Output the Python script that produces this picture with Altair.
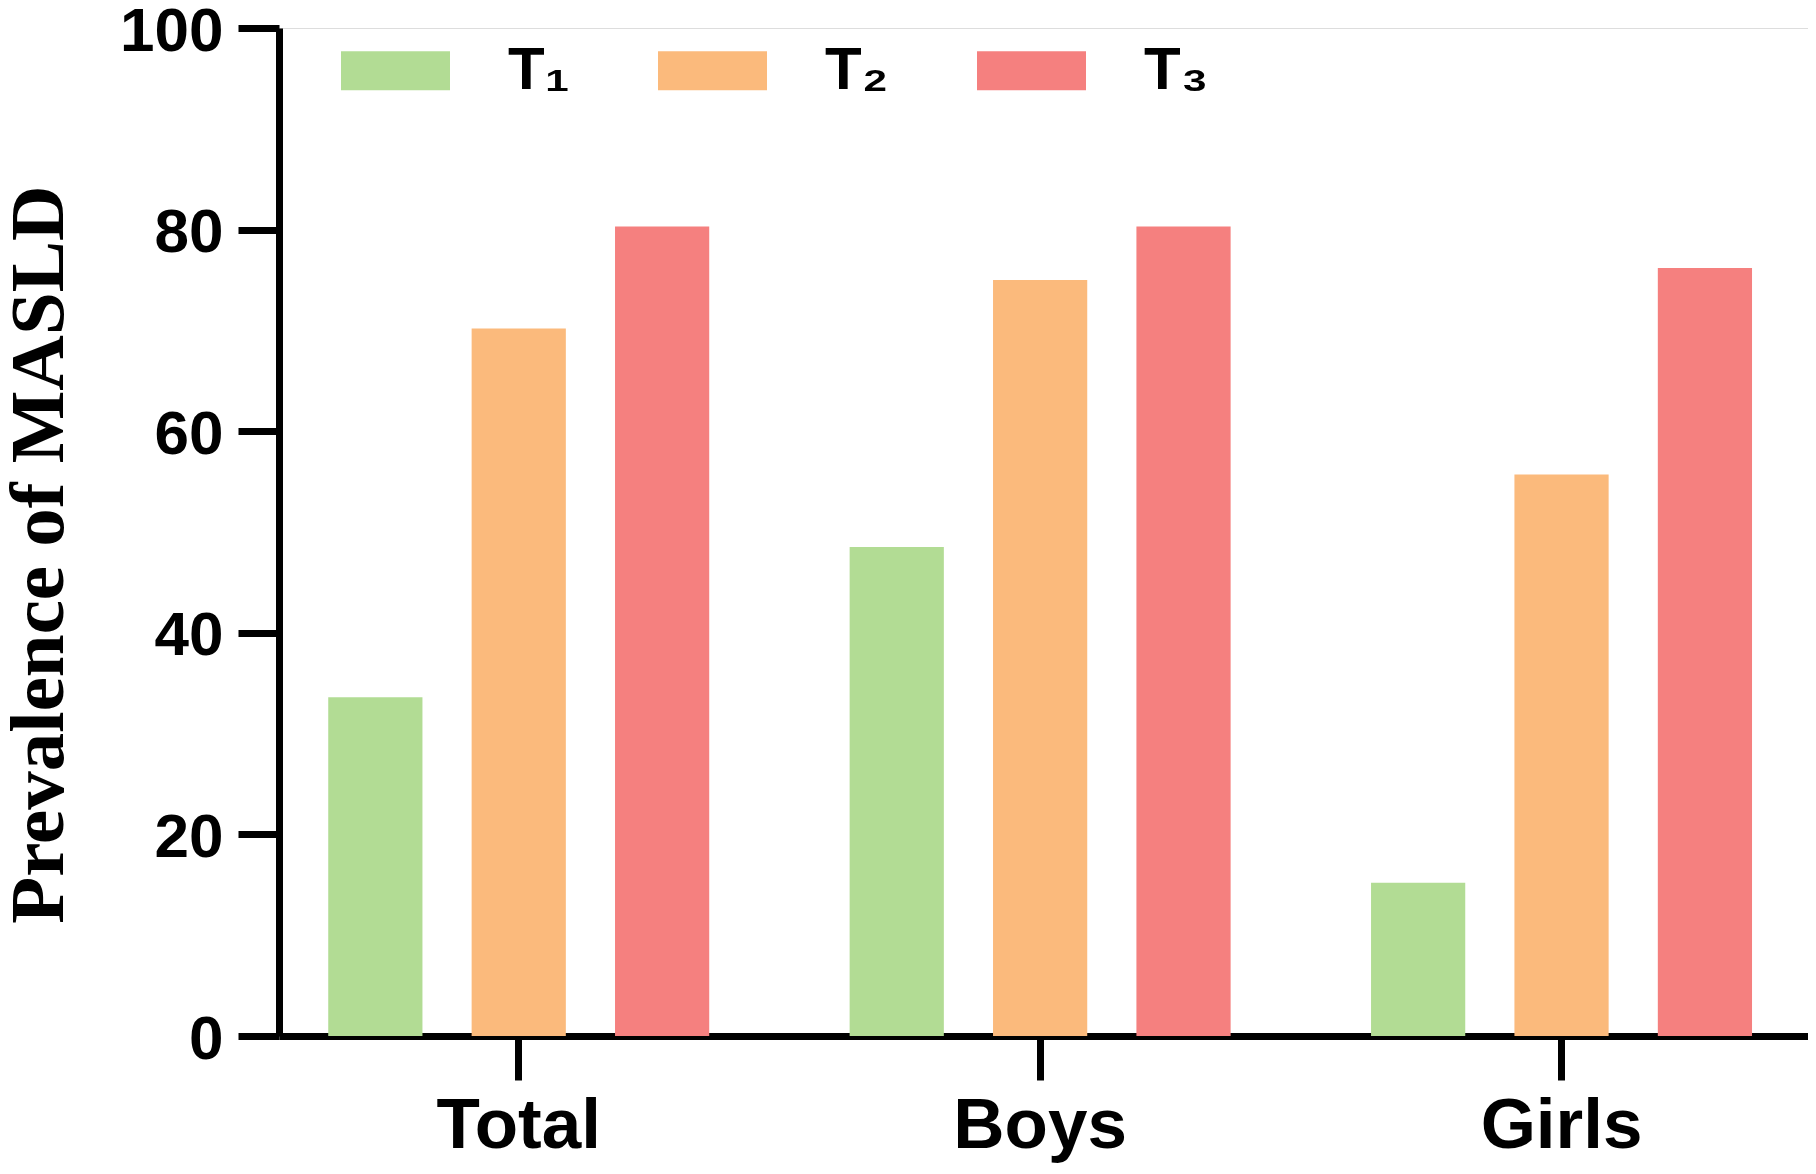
import altair as alt
import pandas as pd

groups = ["Total", "Boys", "Girls"]
tertiles = ["T\u2081", "T\u2082", "T\u2083"]
t1_values = [33.6, 48.5, 15.2]
t2_values = [70.2, 75.0, 55.7]
t3_values = [80.3, 80.3, 76.2]
colors = ["#B2DC94", "#FBBA7C", "#F5807F"]
y_ticks = [0, 20, 40, 60, 80, 100]

rows = []
for i, g in enumerate(groups):
    for t, vals in zip(tertiles, [t1_values, t2_values, t3_values]):
        rows.append({"group": g, "tertile": t, "value": vals[i]})
df = pd.DataFrame(rows)

chart = alt.Chart(df).mark_bar(opacity=1, strokeWidth=0).encode(
    x=alt.X("group:N", sort=groups,
            scale=alt.Scale(paddingInner=0.2693, paddingOuter=0.1009, align=0.468),
            axis=alt.Axis(title=None, labelAngle=0, labelFont="Liberation Sans",
                          labelFontWeight="bold", labelFontSize=71, labelColor="black",
                          labelPadding=11, tickSize=44, tickWidth=7, tickColor="black",
                          domainWidth=7, domainColor="black", grid=False)),
    xOffset=alt.XOffset("tertile:N", sort=tertiles,
                        scale=alt.Scale(paddingInner=0.343, paddingOuter=0)),
    y=alt.Y("value:Q", scale=alt.Scale(domain=[0, 100], nice=False),
            axis=alt.Axis(title="Prevalence of MASLD", values=y_ticks, grid=False,
                          labelFont="Liberation Sans", labelFontWeight="bold",
                          labelFontSize=62, labelColor="black", labelPadding=15,
                          labelOffset=3,
                          tickSize=41, tickWidth=7, tickColor="black",
                          domainWidth=7, domainColor="black",
                          titleFont="Liberation Serif", titleFontWeight="bold",
                          titleFontSize=77, titleColor="black", titleAngle=270,
                          titleX=-240, titleY=526, titleAlign="center",
                          titleBaseline="middle")),
    color=alt.Color("tertile:N", sort=tertiles,
                    scale=alt.Scale(domain=tertiles, range=colors),
                    legend=alt.Legend(title=None, orient="none", legendX=62, legendY=-12,
                                      direction="horizontal",
                                      symbolType="M-1,-0.36H1V0.36H-1Z",
                                      symbolSize=11881, symbolStrokeWidth=0,
                                      symbolOpacity=1,
                                      labelFont="Liberation Sans", labelFontWeight="bold",
                                      labelFontSize=60, labelColor="black",
                                      labelOffset=58, columnPadding=88, padding=0)),
).properties(
    width=1529,
    height=1008,
    padding={"left": 271, "top": 20, "right": 0, "bottom": 130},
    autosize=alt.AutoSizeParams(type="none"),
).configure_view(stroke=None).configure(background="white")

chart.save("out.html", embed_options={"renderer": "svg", "actions": False})
